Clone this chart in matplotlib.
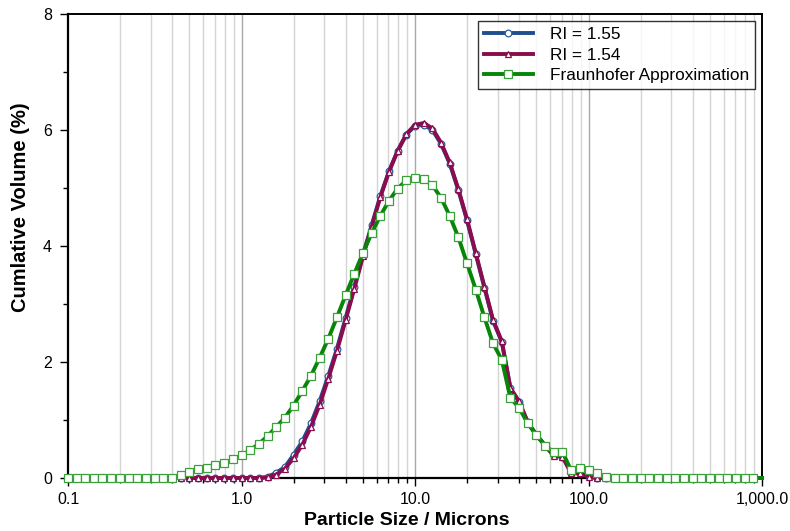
import matplotlib
matplotlib.use("Agg")
import matplotlib.pyplot as plt
from matplotlib.ticker import FixedLocator, NullFormatter

plt.rcParams['font.family'] = ['Liberation Sans', 'DejaVu Sans']

sizes = [0.100, 0.112, 0.126, 0.141, 0.158, 0.178, 0.200, 0.224, 0.251, 0.282,
         0.316, 0.355, 0.398, 0.447, 0.501, 0.562, 0.631, 0.708, 0.794, 0.891,
         1.000, 1.122, 1.259, 1.413, 1.585, 1.778, 1.995, 2.239, 2.512, 2.818,
         3.162, 3.548, 3.981, 4.467, 5.012, 5.623, 6.310, 7.079, 7.943, 8.913,
         10.00, 11.22, 12.59, 14.13, 15.85, 17.78, 19.95, 22.39, 25.12, 28.18,
         31.62, 35.48, 39.81, 44.67, 50.12, 56.23, 63.10, 70.79, 79.43, 89.13,
         100.0, 112.2, 125.9, 141.3, 158.5, 177.8, 199.5, 223.9, 251.2, 281.8,
         316.2, 354.8, 398.1, 446.7, 501.2, 562.3, 631.0, 707.9, 794.3, 891.3,
         1000.0]

ri155 = [0]*23 + [0.02, 0.09, 0.19, 0.40, 0.63, 0.94, 1.32, 1.76, 2.23, 2.76,
                  3.30, 3.85, 4.36, 4.86, 5.29, 5.64, 5.92, 6.07, 6.09, 6.00,
                  5.76, 5.42, 4.96, 4.44, 3.86, 3.28, 2.71, 2.35, 1.55, 1.31,
                  0.96, 0.74, 0.56, 0.39, 0.37, 0.09, 0.09, 0.03] + [0]*20

ri154 = [0]*23 + [0.01, 0.06, 0.16, 0.34, 0.57, 0.88, 1.26, 1.71, 2.19, 2.72,
                  3.26, 3.82, 4.33, 4.84, 5.28, 5.64, 5.93, 6.09, 6.12, 6.03,
                  5.78, 5.44, 4.98, 4.46, 3.88, 3.30, 2.72, 2.36, 1.55, 1.32,
                  0.96, 0.74, 0.56, 0.38, 0.37, 0.08, 0.08, 0.02] + [0]*20

fraunhofer = [0]*13 + [0.06, 0.10, 0.15, 0.18, 0.22, 0.26, 0.32, 0.39, 0.48, 0.59,
                       0.72, 0.88, 1.04, 1.25, 1.50, 1.76, 2.07, 2.40, 2.77, 3.15,
                       3.52, 3.88, 4.22, 4.52, 4.78, 4.99, 5.13, 5.18, 5.16, 5.05,
                       4.83, 4.52, 4.15, 3.70, 3.25, 2.77, 2.32, 2.04, 1.38, 1.21,
                       0.94, 0.74, 0.56, 0.44, 0.45, 0.13, 0.18, 0.14, 0.08, 0.01] + [0]*18

labels = ["RI = 1.55", "RI = 1.54", "Fraunhofer Approximation"]
xticks = [0.1, 1, 10, 100, 1000]
xticklabels = ["0.1", "1.0", "10.0", "100.0", "1,000.0"]
yticks = [0, 2, 4, 6, 8]

fig = plt.figure(figsize=(7.9, 5.31), dpi=100)
ax = fig.add_axes([68/790, 1-478/531, (762-68)/790, (478-14)/531])

minor = [m*10**e for e in range(-1, 3) for m in range(2, 10)]
for v in minor:
    ax.axvline(v, color='#d4d4d4', lw=1.0, zorder=0)
for v in [1, 10, 100]:
    ax.axvline(v, color='#a8a8a8', lw=1.0, zorder=0)

mk = list(range(0, len(sizes)-1))
ax.plot(sizes, ri155, color='#1f4e8c', lw=2.8, marker='o', ms=4.8,
        mfc='white', mec='#2a5da0', mew=0.9, markevery=mk, label=labels[0],
        clip_on=False, zorder=3)
ax.plot(sizes, ri154, color='#8a0c4e', lw=2.8, marker='^', ms=4.8,
        mfc='white', mec='#8a0c4e', mew=0.9, markevery=mk, label=labels[1],
        clip_on=False, zorder=4)
ax.plot(sizes, fraunhofer, color='#078507', lw=2.8, marker='s', ms=5.2,
        mfc='white', mec='#3aa03a', mew=0.9, markevery=mk, label=labels[2],
        clip_on=False, zorder=5)

ax.set_xscale('log')
ax.set_xlim(0.1, 1000)
ax.set_ylim(0, 8)
ax.xaxis.set_major_locator(FixedLocator(xticks))
ax.set_xticklabels(xticklabels)
ax.xaxis.set_minor_locator(FixedLocator(minor))
ax.xaxis.set_minor_formatter(NullFormatter())
ax.set_yticks(yticks)
ax.yaxis.set_minor_locator(FixedLocator([1, 3, 5, 7]))

ax.tick_params(axis='both', which='major', direction='out', length=6, width=1,
               labelsize=11.5, color='black')
ax.tick_params(axis='both', which='minor', direction='out', length=3.5, width=1,
               color='black')
ax.tick_params(axis='x', which='major', pad=4)
ax.tick_params(axis='y', which='major', pad=5.5)

for s in ['left', 'bottom']:
    ax.spines[s].set_linewidth(1.6)
for s in ['top', 'right']:
    ax.spines[s].set_linewidth(1.4)

ax.set_xlabel("Particle Size / Microns", fontsize=14, fontweight='bold')
ax.xaxis.set_label_coords((407-68)/694, (478-512)/464)
ax.set_ylabel("Cumlative Volume (%)", fontsize=14.5, fontweight='bold')
ax.yaxis.set_label_coords((30-68)/694, (478-207)/464)

leg = ax.legend(loc='upper right', fontsize=12.4, frameon=True, fancybox=False,
                edgecolor='black', handlelength=2.8, handletextpad=1.0,
                labelspacing=0.33, borderpad=0.35, borderaxespad=0.4)
leg.get_frame().set_linewidth(1.0)

fig.savefig("out.png", dpi=100)
